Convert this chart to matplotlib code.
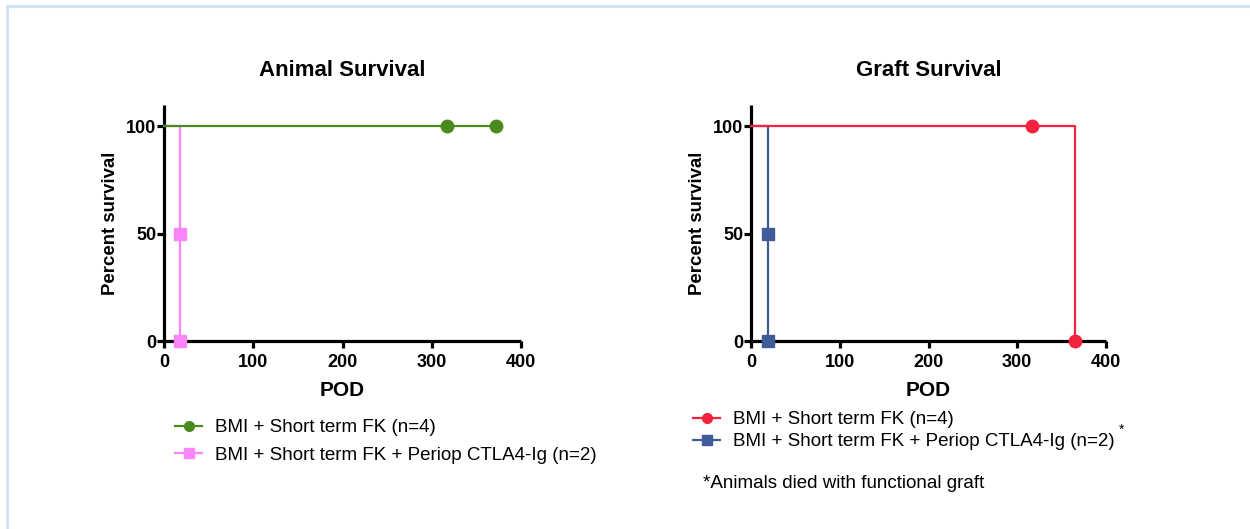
import matplotlib
matplotlib.use("Agg")
import matplotlib.pyplot as plt
from matplotlib.lines import Line2D

plt.rcParams['font.family'] = ['Liberation Sans', 'DejaVu Sans']

# ---- data ----
animal_title = "Animal Survival"
graft_title = "Graft Survival"
label_bmi = "BMI + Short term FK (n=4)"
label_ctla = "BMI + Short term FK + Periop CTLA4-Ig (n=2)"
footnote = "*Animals died with functional graft"
x_ticks = [0, 100, 200, 300, 400]
y_ticks = [0, 50, 100]

# step curves (days, percent survival); markers drawn at points after the start
animal_bmi_days = [0, 317, 372]
animal_bmi_surv = [100, 100, 100]
animal_ctla_days = [0, 18, 18]
animal_ctla_surv = [100, 50, 0]

graft_bmi_days = [0, 317, 365, 365]
graft_bmi_surv = [100, 100, 100, 0]
graft_bmi_mark_days = [317, 365]
graft_bmi_mark_surv = [100, 0]
graft_ctla_days = [0, 19, 19]
graft_ctla_surv = [100, 50, 0]

c_green = "#4b8a1e"
c_pink = "#fb86fb"
c_red = "#f4213f"
c_blue = "#3f5b98"

W, H = 1250, 529
fig = plt.figure(figsize=(W / 100, H / 100), dpi=100)
fig.patch.set_facecolor("white")

# light frame of the source slide
fig.add_artist(Line2D([7 / W, 1.0], [1 - 5.5 / H, 1 - 5.5 / H], color="#d3e3f3", lw=2.2,
                      transform=fig.transFigure))
fig.add_artist(Line2D([7 / W, 7 / W], [0, 1 - 5.5 / H], color="#d3e3f3", lw=2.2,
                      transform=fig.transFigure))


def px_ax(left, right, top, bottom):
    return fig.add_axes([left / W, 1 - bottom / H, (right - left) / W, (bottom - top) / H])


def style(ax, title):
    ax.set_xlim(0, 400)
    ax.set_ylim(0, 110)
    ax.set_xticks(x_ticks)
    ax.set_yticks(y_ticks)
    for s in ["top", "right"]:
        ax.spines[s].set_visible(False)
    for s in ["left", "bottom"]:
        ax.spines[s].set_linewidth(2.3)
        ax.spines[s].set_capstyle("butt")
    ax.tick_params(direction="out", length=5, width=2.3, labelsize=13)
    ax.tick_params(axis="x", pad=4.5)
    ax.tick_params(axis="y", pad=0.5)
    for lab in ax.get_xticklabels() + ax.get_yticklabels():
        lab.set_fontweight("bold")
    ax.set_xlabel("POD", fontsize=15, fontweight="bold", labelpad=7)
    ax.set_ylabel("Percent survival", fontsize=13.4, fontweight="bold", labelpad=5)
    ax.set_title(title, fontsize=16, fontweight="bold", pad=21)
    ax.patch.set_alpha(0)


ms_c = 9
ms_s = 8.5

# Animal survival
ax1 = px_ax(164, 521, 105, 341)
ax1.step(animal_ctla_days, animal_ctla_surv, where="post", color=c_pink, lw=1.6, zorder=3, clip_on=False)
ax1.plot(animal_ctla_days[1:], animal_ctla_surv[1:], ls="none", marker="s", ms=ms_s, color=c_pink,
         zorder=5, clip_on=False)
ax1.step(animal_bmi_days, animal_bmi_surv, where="post", color=c_green, lw=1.6, zorder=4, clip_on=False)
ax1.plot(animal_bmi_days[1:], animal_bmi_surv[1:], ls="none", marker="o", ms=ms_c, color=c_green,
         zorder=5, clip_on=False)
style(ax1, animal_title)

h1 = [Line2D([], [], color=c_green, lw=1.6, marker="o", ms=7),
      Line2D([], [], color=c_pink, lw=1.6, marker="s", ms=7)]
fig.legend(h1, [label_bmi, label_ctla], loc="upper left", bbox_to_anchor=(175 / W, 1 - 419 / H),
           frameon=False, fontsize=13.5, handlelength=1.45, handletextpad=0.7, labelspacing=0.55,
           borderpad=0, borderaxespad=0)

# Graft survival
ax2 = px_ax(751, 1106, 105, 341)
ax2.step(graft_ctla_days, graft_ctla_surv, where="post", color=c_blue, lw=1.6, zorder=3, clip_on=False)
ax2.plot(graft_ctla_days[1:], graft_ctla_surv[1:], ls="none", marker="s", ms=ms_s, color=c_blue,
         zorder=5, clip_on=False)
ax2.step(graft_bmi_days, graft_bmi_surv, where="post", color=c_red, lw=1.6, zorder=4, clip_on=False)
ax2.plot(graft_bmi_mark_days, graft_bmi_mark_surv, ls="none", marker="o", ms=ms_c, color=c_red,
         zorder=5, clip_on=False)
style(ax2, graft_title)

h2 = [Line2D([], [], color=c_red, lw=1.6, marker="o", ms=7),
      Line2D([], [], color=c_blue, lw=1.6, marker="s", ms=7)]
fig.legend(h2, [label_bmi, label_ctla], loc="upper left", bbox_to_anchor=(693 / W, 1 - 411 / H),
           frameon=False, fontsize=13.5, handlelength=1.45, handletextpad=0.7, labelspacing=0.28,
           borderpad=0, borderaxespad=0)
fig.text(1119 / W, 1 - 430 / H, "*", fontsize=10, ha="left", va="center")
fig.text(703 / W, 1 - 483 / H, footnote, fontsize=13.5, ha="left", va="center")

fig.savefig("out.png", dpi=100)
